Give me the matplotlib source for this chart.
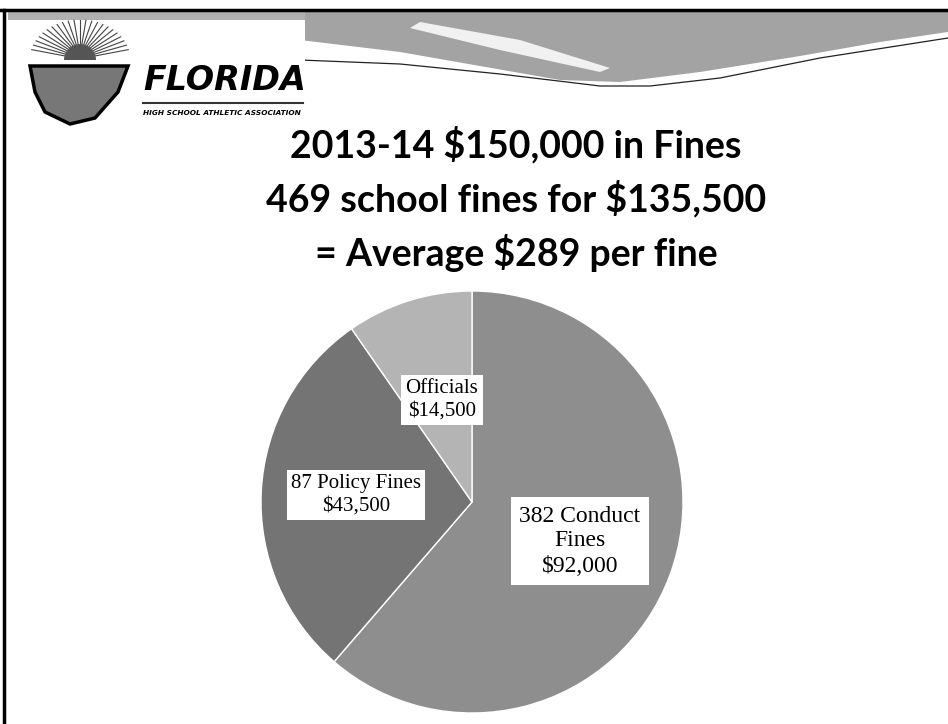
import matplotlib.pyplot as plt
import numpy as np
from matplotlib.patches import Polygon, Wedge

# data
categories = ["382 Conduct\nFines\n$92,000", "87 Policy Fines\n$43,500", "Officials\n$14,500"]
amounts = [92000, 43500, 14500]
slice_colors = ["#8e8e8e", "#747474", "#b4b4b4"]
title_lines = ["2013-14 $150,000 in Fines",
               "469 school fines for $135,500",
               "= Average $289 per fine"]

W, H = 948, 724

fig = plt.figure(figsize=(W / 100, H / 100), dpi=100)
ax = fig.add_axes([0, 0, 1, 1])


def Y(y):
    # pixel row (from top) to axis y
    return H - y


# frame lines
ax.plot([0, W], [Y(10), Y(10)], color="black", lw=2.5, zorder=5)
ax.plot([4, 4], [Y(10), 0], color="black", lw=2.5, zorder=5)

# grey swoosh at the top
band_top = [(300, 12), (948, 12)]
band_bot = [(948, 32), (880, 42), (800, 56), (700, 72), (620, 82), (560, 80),
            (480, 66), (400, 52), (300, 40)]
ax.add_patch(Polygon([(x, Y(y)) for x, y in band_top + band_bot],
                     closed=True, fc="#a3a3a3", ec="none", zorder=1))
streak = [(420, 22), (520, 40), (610, 68), (600, 72), (500, 50), (410, 28)]
ax.add_patch(Polygon([(x, Y(y)) for x, y in streak], closed=True,
                     fc="white", ec="none", alpha=0.85, zorder=1))
sx = np.array([300, 400, 500, 600, 650, 720, 820, 948])
sy = np.array([60, 64, 74, 86, 86, 78, 58, 38])
ax.plot(sx, Y(sy), color="#222222", lw=0.9, zorder=2)

# logo box
ax.add_patch(Polygon([(8, Y(12)), (305, Y(12)), (305, Y(122)), (8, Y(122))],
                     closed=True, fc="white", ec="none", zorder=2))
ax.add_patch(Polygon([(8, Y(12)), (305, Y(12)), (305, Y(20)), (8, Y(20))],
                     closed=True, fc="#b0b0b0", ec="none", zorder=2))
cx_s, cy_s = 80, 60
for a in np.linspace(15, 165, 23):
    t = np.radians(a)
    ax.plot([cx_s + 16 * np.cos(t), cx_s + 50 * np.cos(t)],
            [Y(cy_s) + 16 * np.sin(t), Y(cy_s) + 40 * np.sin(t)],
            color="#444444", lw=0.8, zorder=3)
ax.add_patch(Wedge((cx_s, Y(cy_s)), 16, 0, 180, fc="#555555", ec="none", zorder=3))
shield = [(30, 66), (128, 66), (118, 92), (95, 118), (70, 124), (45, 112), (35, 92)]
ax.add_patch(Polygon([(x, Y(y)) for x, y in shield], closed=True,
                     fc="#777777", ec="black", lw=2.5, zorder=3))
ax.text(143, Y(81), "FLORIDA", fontsize=24, fontweight="bold", style="italic",
        family="DejaVu Sans", ha="left", va="center", zorder=4)
ax.plot([143, 303], [Y(103), Y(103)], color="#333333", lw=1.5, zorder=4)
ax.text(143, Y(113), "HIGH SCHOOL ATHLETIC ASSOCIATION", fontsize=5.3,
        fontweight="bold", style="italic", family="DejaVu Sans",
        ha="left", va="center", zorder=4)

# title
for i, line in enumerate(title_lines):
    ax.text(516, Y(145 + i * 54), line, fontsize=27, fontweight="bold",
            family="Lato", ha="center", va="center", zorder=4)

# pie
ax.pie(amounts, colors=slice_colors, startangle=90, counterclock=False,
       center=(472, Y(502)), radius=211,
       wedgeprops=dict(edgecolor="white", linewidth=1.0))

# labels in white boxes
label_pos = [(580, 541), (356, 495), (442, 400)]
label_size = [17, 15, 15]
label_pad = [0.35, 0.2, 0.2]
for txt, (x, y), fs, pd in zip(categories, label_pos, label_size, label_pad):
    ax.text(x, Y(y), txt, fontsize=fs, family="Liberation Serif",
            ha="center", va="center", linespacing=1.25, zorder=6,
            bbox=dict(boxstyle="square,pad=%s" % pd, fc="white", ec="none"))

ax.set_xlim(0, W)
ax.set_ylim(0, H)
ax.set_aspect("equal")
ax.set_axis_off()

fig.savefig("out.png", dpi=100)
